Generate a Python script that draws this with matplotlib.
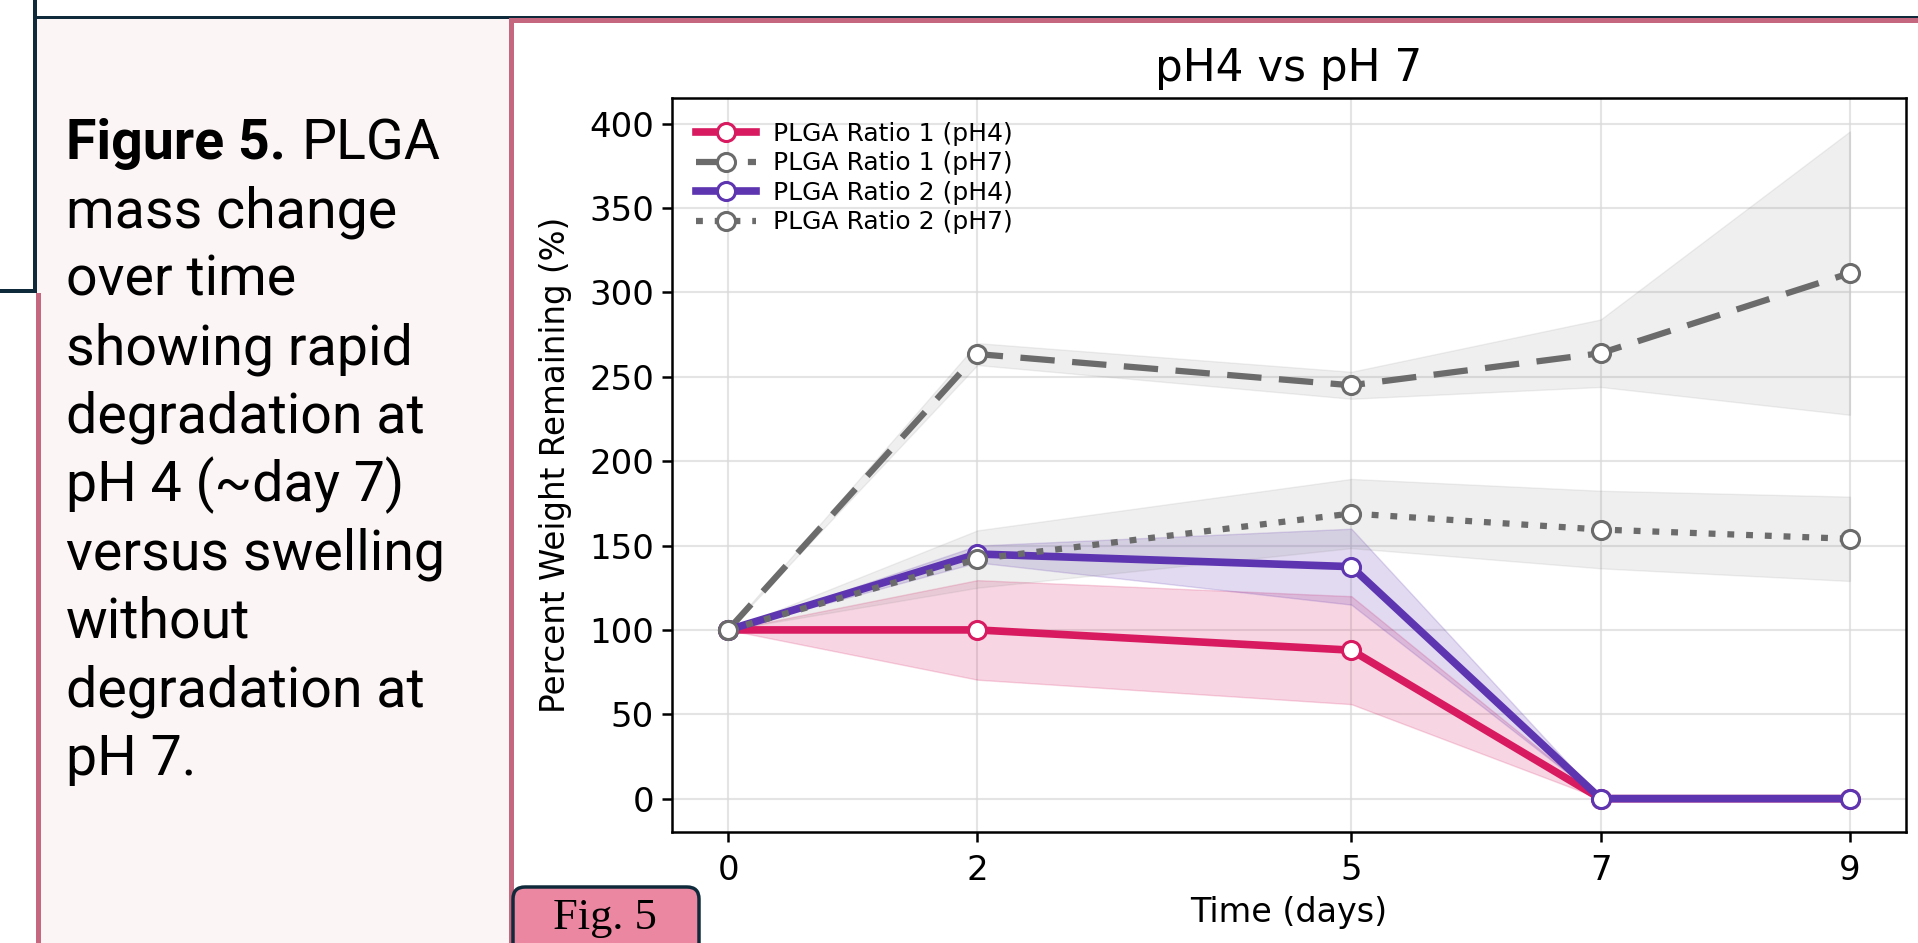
import matplotlib
matplotlib.use("Agg")
import matplotlib.pyplot as plt
from matplotlib.patches import Rectangle, FancyBboxPatch
from matplotlib.transforms import IdentityTransform

### Data ###
days = [0, 2, 5, 7, 9]
r1_ph4_mean = [100, 100, 88, 0, 0]
r1_ph4_sd = [0, 29.5, 32, 0, 0]
r1_ph7_mean = [100, 263.5, 245, 264, 311.5]
r1_ph7_sd = [0, 6.5, 8, 20, 84]
r2_ph4_mean = [100, 145, 137.5, 0, 0]
r2_ph4_sd = [0, 5, 22.5, 0, 0]
r2_ph7_mean = [100, 142, 169, 159.5, 154]
r2_ph7_sd = [0, 17, 20.5, 23, 25]

labels = ["PLGA Ratio 1 (pH4)", "PLGA Ratio 1 (pH7)", "PLGA Ratio 2 (pH4)", "PLGA Ratio 2 (pH7)"]
caption_lines = ["mass change", "over time", "showing rapid", "degradation at",
                 "pH 4 (~day 7)", "versus swelling", "without", "degradation at", "pH 7."]

W, H = 1918, 943
pink = "#D81B60"
purple = "#5E35B1"
gray = "#6b6b6b"
rose = "#C4677F"
navy = "#0F2A3A"

fig = plt.figure(figsize=(W / 100, H / 100), dpi=100)
fig.patch.set_facecolor("white")


def px_rect(x, y_top, w, h, color, z=0):
    # rectangle given in output pixels, origin top-left
    r = Rectangle((x, H - y_top - h), w, h, transform=IdentityTransform(),
                  facecolor=color, edgecolor="none", zorder=z)
    fig.add_artist(r)


# poster frame bits
px_rect(37, 19, 472, H - 19, "#FBF5F5")
px_rect(33, 0, 4, 292, navy)
px_rect(33, 16, W - 33, 3, navy)
px_rect(0, 289, 37, 4, navy)
px_rect(36, 293, 5, H - 293, rose)
px_rect(509, 18, W - 509, 5, rose)
px_rect(509, 18, 5, H - 18, rose)

# caption text
base0 = 159
step = 68.4
bold = fig.text(66 / W, 1 - base0 / H, "Figure 5.", fontsize=40, fontweight="bold",
                family="Roboto", va="baseline", ha="left")
renderer = fig.canvas.get_renderer()
bb = bold.get_window_extent(renderer)
fig.text((bb.x1 + 16) / W, 1 - base0 / H, "PLGA", fontsize=40, family="Roboto",
         va="baseline", ha="left")
for i, line in enumerate(caption_lines):
    fig.text(66 / W, 1 - (base0 + step * (i + 1)) / H, line, fontsize=40, family="Roboto",
             va="baseline", ha="left")

# chart
ax = fig.add_axes([672 / W, 1 - 832 / H, (1906 - 672) / W, (832 - 98) / H])

ax.fill_between(days, [m - s for m, s in zip(r1_ph4_mean, r1_ph4_sd)],
                [m + s for m, s in zip(r1_ph4_mean, r1_ph4_sd)], color=pink, alpha=0.18, zorder=1)
ax.fill_between(days, [m - s for m, s in zip(r1_ph7_mean, r1_ph7_sd)],
                [m + s for m, s in zip(r1_ph7_mean, r1_ph7_sd)], color="#808080", alpha=0.12, zorder=1)
ax.fill_between(days, [m - s for m, s in zip(r2_ph4_mean, r2_ph4_sd)],
                [m + s for m, s in zip(r2_ph4_mean, r2_ph4_sd)], color=purple, alpha=0.18, zorder=1)
ax.fill_between(days, [m - s for m, s in zip(r2_ph7_mean, r2_ph7_sd)],
                [m + s for m, s in zip(r2_ph7_mean, r2_ph7_sd)], color="#808080", alpha=0.12, zorder=1)

mk = dict(marker="o", markersize=13, markerfacecolor="white", markeredgewidth=2.2)
ax.plot(days, r1_ph4_mean, color=pink, lw=5.5, markeredgecolor=pink, label=labels[0], zorder=3, **mk)
ax.plot(days, r1_ph7_mean, color=gray, lw=4.5, dashes=(5.5, 2.8), markeredgecolor=gray,
        label=labels[1], zorder=3, **mk)
ax.plot(days, r2_ph4_mean, color=purple, lw=5.5, markeredgecolor=purple, label=labels[2], zorder=3, **mk)
ax.plot(days, r2_ph7_mean, color=gray, lw=4.5, dashes=(1.1, 1.9), markeredgecolor=gray,
        label=labels[3], zorder=3, **mk)

ax.set_xticks(days)
ax.grid(True, color="#d9d9d9", alpha=0.7, lw=1.5, zorder=0)
ax.set_axisbelow(True)
ax.tick_params(labelsize=24.5, width=1.8, length=7, pad=6)
ax.tick_params(axis="x", pad=9)
for sp in ax.spines.values():
    sp.set_linewidth(1.8)
ax.set_title("pH4 vs pH 7", fontsize=31.5, pad=12)
ax.set_xlabel("Time (days)", fontsize=24, labelpad=6)
ax.set_ylabel("Percent Weight Remaining (%)", fontsize=23.5, labelpad=12)
ax.legend(loc="upper left", frameon=False, fontsize=18, handlelength=2.4,
          labelspacing=0.22, borderaxespad=0.55, handletextpad=0.7)

# Fig. 5 tag
tag = FancyBboxPatch((513, -20), 186, H - 887 + 20, boxstyle="round,pad=0,rounding_size=12",
                     transform=IdentityTransform(), facecolor="#EC87A2", edgecolor=navy,
                     linewidth=2.5, zorder=5)
fig.add_artist(tag)
fig.text(605 / W, 1 - 918 / H, "Fig. 5", fontsize=32, family="Liberation Serif",
         ha="center", va="center", zorder=6)

fig.savefig("out.png", dpi=100)
